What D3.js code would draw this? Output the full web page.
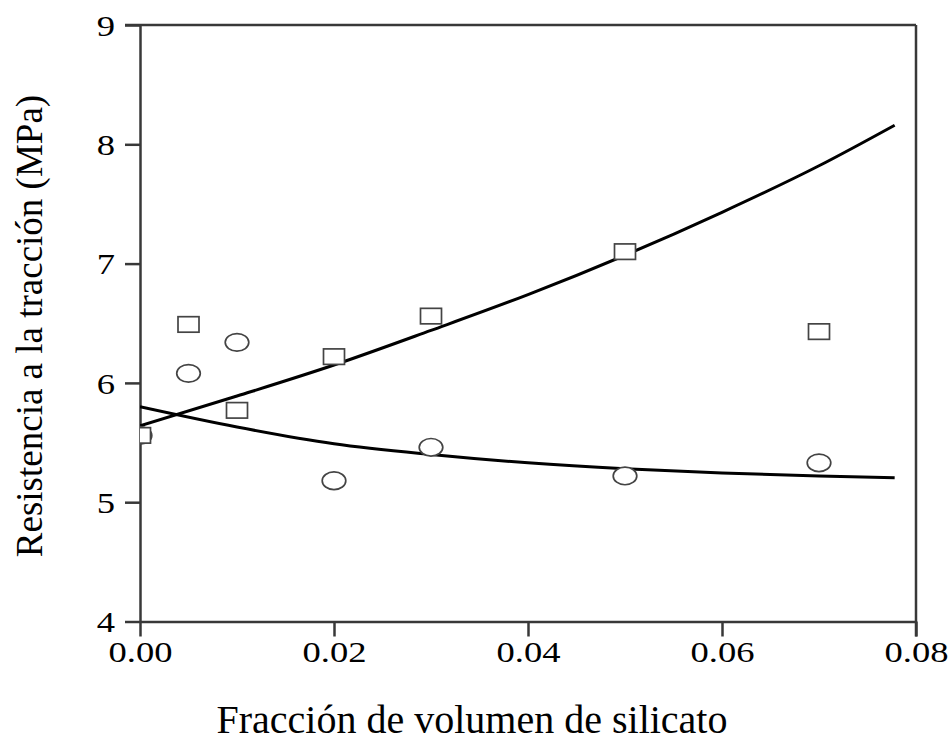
<!DOCTYPE html>
<html>
<head>
<meta charset="utf-8">
<script src="https://cdn.jsdelivr.net/npm/d3@7"></script>
<style>
  html, body { margin: 0; padding: 0; background: #fff; }
  svg { display: block; font-family: "Liberation Serif", "Times New Roman", serif; }
</style>
</head>
<body>
<svg id="chart" width="951" height="744"></svg>
<script>
// Volume fraction of silicate (x) and measured tensile strength (MPa)
const fractions = [0.00, 0.005, 0.01, 0.02, 0.03, 0.05, 0.07];
const squareValues = [5.56, 6.49, 5.77, 6.22, 6.56, 7.10, 6.43];
const circleValues = [5.56, 6.08, 6.34, 5.18, 5.46, 5.22, 5.33];

// Fitted trend curves, sampled along x
const fitX = [0.00, 0.01, 0.02, 0.03, 0.04, 0.05, 0.06, 0.07, 0.0778];
const fitSquares = [5.64, 5.89, 6.15, 6.44, 6.74, 7.07, 7.43, 7.82, 8.16];
const fitCircles = [5.80, 5.63, 5.49, 5.40, 5.33, 5.28, 5.245, 5.22, 5.205];

// Axis ticks
const xTicks = [0.00, 0.02, 0.04, 0.06, 0.08];
const yTicks = [4, 5, 6, 7, 8, 9];

const svg = d3.select("#chart");
const x = d3.scaleLinear().domain([0, 0.08]).range([140, 916]);
const y = d3.scaleLinear().domain([4, 9]).range([621.5, 25]);

const axisColor = "#383838";
const tickLen = 15;
const stretch = 1.22;

// clip for markers and curves
svg.append("defs").append("clipPath").attr("id", "plotClip")
  .append("rect")
  .attr("x", x(0)).attr("y", y(9))
  .attr("width", x(0.08) - x(0)).attr("height", y(4) - y(9));

// frame: top and right edges
svg.append("line")
  .attr("x1", x(0) - tickLen).attr("x2", x(0.08))
  .attr("y1", y(9)).attr("y2", y(9))
  .attr("stroke", axisColor).attr("stroke-width", 2.5);
svg.append("line")
  .attr("x1", x(0.08)).attr("x2", x(0.08))
  .attr("y1", y(9)).attr("y2", y(4) + tickLen)
  .attr("stroke", axisColor).attr("stroke-width", 2.5);

// x axis
const gx = svg.append("g")
  .attr("transform", `translate(0,${y(4)})`)
  .call(d3.axisBottom(x).tickValues(xTicks).tickFormat(d3.format(".2f"))
    .tickSize(tickLen).tickSizeOuter(0));
gx.selectAll("text")
  .attr("y", 41).attr("dy", 0)
  .attr("transform", `scale(${stretch},1)`)
  .attr("fill", "#000")
  .style("font-size", "30px");

// y axis
const gy = svg.append("g")
  .attr("transform", `translate(${x(0)},0)`)
  .call(d3.axisLeft(y).tickValues(yTicks).tickFormat(d3.format("d"))
    .tickSize(tickLen).tickSizeOuter(0));
gy.selectAll("text")
  .attr("x", -25 / stretch).attr("dy", "0.34em")
  .attr("transform", `scale(${stretch},1)`)
  .attr("fill", "#000")
  .style("font-size", "30px");

[gx, gy].forEach(g => {
  g.select(".domain").attr("stroke", axisColor).attr("stroke-width", 2.5);
  g.selectAll(".tick line").attr("stroke", axisColor).attr("stroke-width", 2.5);
  g.attr("font-family", null).attr("font-size", null);
});

const plot = svg.append("g").attr("clip-path", "url(#plotClip)");

// trend curves
const line = d3.line().curve(d3.curveMonotoneX);
const curveData = [fitSquares, fitCircles];
curveData.forEach(vals => {
  plot.append("path")
    .attr("d", line(fitX.map((fx, i) => [x(fx), y(vals[i])])))
    .attr("fill", "none")
    .attr("stroke", "#000")
    .attr("stroke-width", 3);
});

// circle markers
plot.selectAll("ellipse.pt")
  .data(fractions.map((f, i) => ({ f, v: circleValues[i] })))
  .join("ellipse")
  .attr("class", "pt")
  .attr("cx", d => x(d.f)).attr("cy", d => y(d.v))
  .attr("rx", 11.8).attr("ry", 8.8)
  .attr("fill", "#fff").attr("stroke", "#444").attr("stroke-width", 1.7);

// square markers
const sqW = 21, sqH = 15.5;
plot.selectAll("rect.pt")
  .data(fractions.map((f, i) => ({ f, v: squareValues[i] })))
  .join("rect")
  .attr("class", "pt")
  .attr("x", d => x(d.f) - sqW / 2).attr("y", d => y(d.v) - sqH / 2)
  .attr("width", sqW).attr("height", sqH)
  .attr("fill", "#fff").attr("stroke", "#444").attr("stroke-width", 1.7);

// axis titles
svg.append("text")
  .attr("x", 472).attr("y", 733)
  .attr("text-anchor", "middle")
  .style("font-size", "40px")
  .text("Fracción de volumen de silicato");

svg.append("text")
  .attr("transform", "translate(42,326) rotate(-90)")
  .attr("text-anchor", "middle")
  .style("font-size", "37px")
  .text("Resistencia a la tracción (MPa)");
</script>
</body>
</html>
